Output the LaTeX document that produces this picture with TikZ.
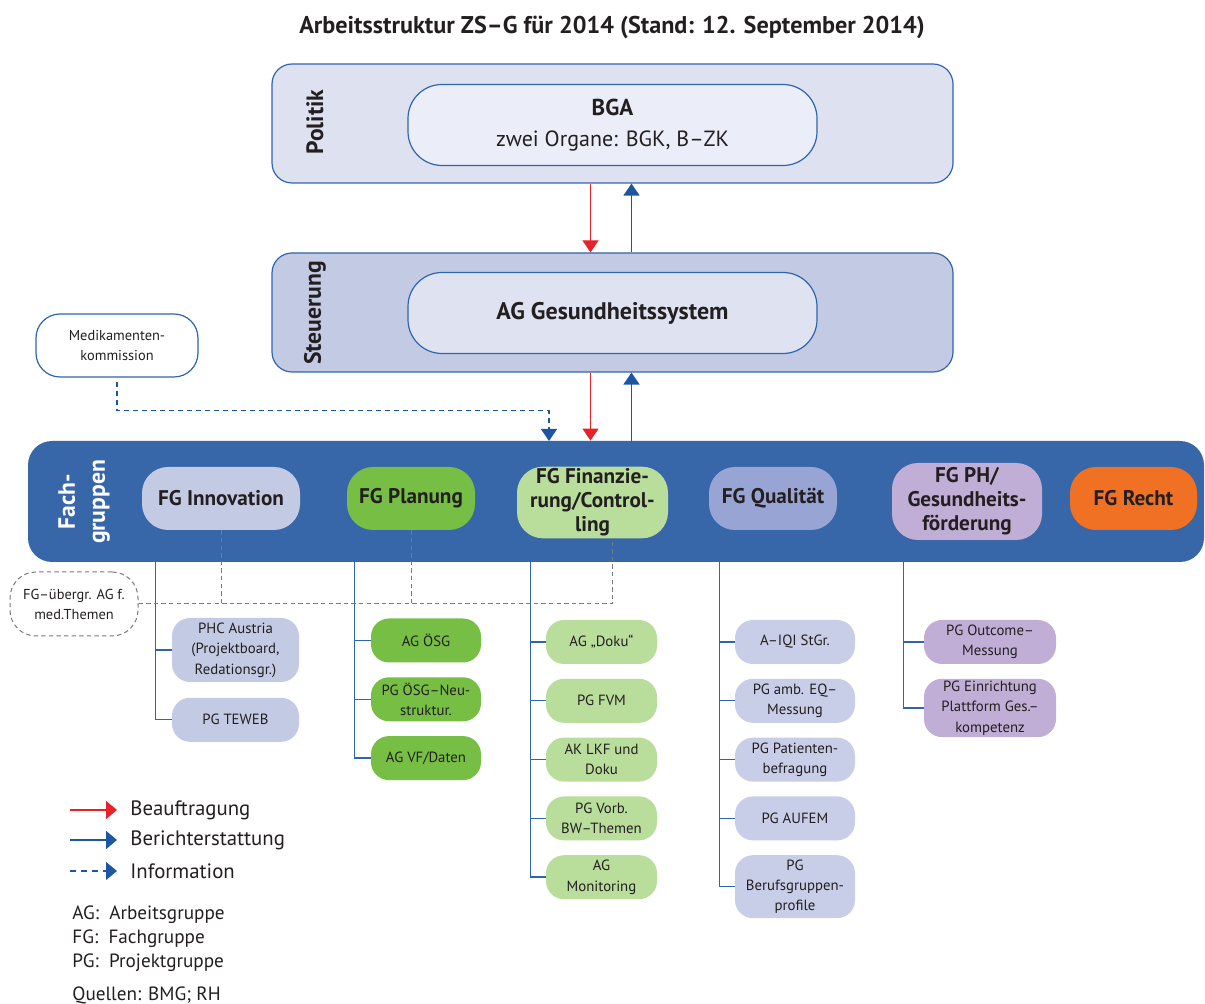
\documentclass[tikz,border=0pt]{standalone}
\usepackage{fontspec}
\setmainfont{PT Sans}
\usepackage{xcolor}
\usepackage{tikz}
\usetikzlibrary{arrows.meta,positioning,calc}
\definecolor{textdark}{HTML}{231F20}
\definecolor{linkblue}{HTML}{2F65AC}
\definecolor{bandblue}{HTML}{3767A9}
\definecolor{arrowblue}{HTML}{1D56A0}
\definecolor{arrowred}{HTML}{E52229}
\definecolor{politikfill}{HTML}{DEE1F0}
\definecolor{bgafill}{HTML}{EBEEF8}
\definecolor{steuerfill}{HTML}{C3CAE4}
\definecolor{agfill}{HTML}{DEE2F1}
\definecolor{innofill}{HTML}{C3CAE4}
\definecolor{planfill}{HTML}{77BE44}
\definecolor{finfill}{HTML}{B9DD9B}
\definecolor{qualfill}{HTML}{98A5D4}
\definecolor{qualsub}{HTML}{C8CDE8}
\definecolor{phfill}{HTML}{C1AED6}
\definecolor{rechtfill}{HTML}{F07124}
\definecolor{crossgray}{HTML}{7A7A7A}

\begin{document}
\begin{tikzpicture}[
    x=0.5pt, y=-0.5pt,
    every node/.style={text=textdark},
    lane/.style={draw=linkblue, line width=0.6pt, rounded corners=10pt, minimum width=340.5pt, minimum height=59.5pt},
    innerbox/.style={draw=linkblue, line width=0.6pt, rounded corners=17pt, minimum width=204.5pt, minimum height=40.5pt, align=center},
    lanelabel/.style={rotate=90, font=\bfseries\fontsize{11.8}{13}\selectfont},
    fg/.style={rounded corners=13pt, align=center, minimum height=31.5pt, inner xsep=2pt, inner ysep=1pt, font=\bfseries\fontsize{10.6}{12}\selectfont},
    sub/.style={rounded corners=9pt, align=center, minimum height=22pt, inner sep=1pt, font=\fontsize{7.4}{10.2}\selectfont},
    tree/.style={draw=linkblue, line width=0.7pt},
    cross/.style={draw=crossgray, line width=0.5pt, dash pattern=on 2.2pt off 1.6pt},
    auftrag/.style={draw=arrowred, line width=0.6pt, -{Triangle[width=8pt,length=6pt]}, arrowred},
    bericht/.style={draw=arrowblue, line width=0.8pt, -{Triangle[width=8pt,length=6pt]}, arrowblue},
    info/.style={draw=arrowblue, line width=0.6pt, dash pattern=on 2.5pt off 2pt, -{Triangle[width=8pt,length=6pt]}, arrowblue},
    legtext/.style={anchor=west, inner sep=0pt, font=\fontsize{10.4}{12}\selectfont}
]
\useasboundingbox (0,0) rectangle (1205,1004);

\node[font=\bfseries\fontsize{12.1}{14}\selectfont] (title) at (612,27) {Arbeitsstruktur ZS–G für 2014 (Stand: 12. September 2014)};

\node[lane, fill=politikfill] (politik) at (612.5,123.5) {};
\node[lanelabel] (politiklbl) at (315,122) {Politik};
\node[innerbox, fill=bgafill, font=\fontsize{11}{15.5}\selectfont] (bga) at (612.5,125) {{\bfseries\fontsize{11.5}{15.5}\selectfont BGA}\\zwei Organe: BGK, B–ZK};

\node[lane, fill=steuerfill] (steuer) at (612.5,312.5) {};
\node[lanelabel] (steuerlbl) at (315,313) {Steuerung};
\node[innerbox, fill=agfill, font=\bfseries\fontsize{12}{14}\selectfont] (agges) at (612.5,313) {AG Gesundheitssystem};

\node[draw=linkblue, fill=white, line width=0.6pt, rounded corners=12pt, minimum width=81pt, minimum height=31.5pt, align=center, font=\fontsize{7.2}{10}\selectfont] (medi) at (117,345.5) {Medikamenten-\\kommission};

\node[fill=bandblue, rounded corners=12pt, minimum width=588pt, minimum height=60.5pt] (band) at (616,501.5) {};
\node[rotate=90, align=center, text=white, font=\bfseries\fontsize{11.8}{15}\selectfont] (bandlbl) at (84,502) {Fach-\\gruppen};

\node[fg, fill=innofill, minimum width=79pt] (inno) at (221,498.5) {FG Innovation};
\node[fg, fill=planfill, minimum width=64pt] (plan) at (411,498.5) {FG Planung};
\node[fg, fill=finfill, minimum width=75.5pt, minimum height=35.5pt] (fin) at (592.5,502.5) {FG Finanzie-\\rung/Control-\\ling};
\node[fg, fill=qualfill, minimum width=64pt] (qual) at (773,498.5) {FG Qualität};
\node[fg, fill=phfill, minimum width=75pt, minimum height=38.5pt] (ph) at (967,501.5) {FG PH/\\Gesundheits-\\förderung};
\node[fg, fill=rechtfill, minimum width=63.5pt] (recht) at (1133.5,498.5) {FG Recht};

\node[draw=crossgray, line width=0.5pt, dash pattern=on 2.2pt off 1.6pt, rounded corners=13pt, minimum width=64pt, minimum height=32pt, align=center, font=\fontsize{7.2}{10}\selectfont] (uebergr) at (74,604) {FG–übergr. AG f.\\med.Themen};

\node[sub, fill=innofill, minimum width=63.5pt, minimum height=32pt] (phc) at (235.5,650) {PHC Austria\\(Projektboard,\\Redationsgr.)};
\node[sub, fill=innofill, minimum width=63.5pt, below=7.5pt of phc] (teweb) {PG TEWEB};

\node[sub, fill=planfill, minimum width=55pt] (agoesg) at (426,640.5) {AG ÖSG};
\node[sub, fill=planfill, minimum width=55pt, below=7pt of agoesg] (pgoesg) {PG ÖSG–Neu-\\struktur.};
\node[sub, fill=planfill, minimum width=55pt, below=7pt of pgoesg] (agvf) {AG VF/Daten};

\node[sub, fill=finfill, minimum width=55.5pt] (doku) at (601.5,642) {AG „Doku“};
\node[sub, fill=finfill, minimum width=55.5pt, below=7pt of doku] (fvm) {PG FVM};
\node[sub, fill=finfill, minimum width=55.5pt, below=7pt of fvm] (lkf) {AK LKF und\\Doku};
\node[sub, fill=finfill, minimum width=55.5pt, below=7pt of lkf] (vorb) {PG Vorb.\\BW–Themen};
\node[sub, fill=finfill, minimum width=55.5pt, below=7pt of vorb] (monit) {AG\\Monitoring};

\node[sub, fill=qualsub, minimum width=60pt] (aiqi) at (795,642) {A–IQI StGr.};
\node[sub, fill=qualsub, minimum width=60pt, below=7pt of aiqi] (amb) {PG amb. EQ–\\Messung};
\node[sub, fill=qualsub, minimum width=60pt, below=7pt of amb] (patient) {PG Patienten-\\befragung};
\node[sub, fill=qualsub, minimum width=60pt, below=7pt of patient] (aufem) {PG AUFEM};
\node[sub, fill=qualsub, minimum width=60pt, minimum height=31.5pt, below=7pt of aufem] (beruf) {PG\\Berufsgruppen-\\profile};

\node[sub, fill=phfill, minimum width=66pt] (outcome) at (990,642) {PG Outcome–\\Messung};
\node[sub, fill=phfill, minimum width=66pt, minimum height=28.5pt, below=7pt of outcome] (einr) {PG Einrichtung\\Plattform Ges.–\\kompetenz};

\coordinate (tinno) at ([xshift=7pt]inno.west |- band.south);
\coordinate (tplan) at ([xshift=4pt]plan.west |- band.south);
\coordinate (tfin) at ([xshift=7pt]fin.west |- band.south);
\coordinate (tqual) at ([xshift=5.5pt]qual.west |- band.south);
\coordinate (tph) at ([xshift=6pt]ph.west |- band.south);
\foreach \n in {phc,teweb} \draw[tree] (tinno) |- (\n.west);
\foreach \n in {agoesg,pgoesg,agvf} \draw[tree] (tplan) |- (\n.west);
\foreach \n in {doku,fvm,lkf,vorb,monit} \draw[tree] (tfin) |- (\n.west);
\foreach \n in {aiqi,amb,patient,aufem,beruf} \draw[tree] (tqual) |- (\n.west);
\foreach \n in {outcome,einr} \draw[tree] (tph) |- (\n.west);

\draw[cross] (inno.south) -- (inno.south |- uebergr.east);
\draw[cross] (plan.south) -- (plan.south |- uebergr.east);
\draw[cross] (uebergr.east) -| ([xshift=10pt]fin.south);

\draw[auftrag] ([xshift=-11pt]politik.south) -- ([xshift=-11pt]steuer.north);
\draw[bericht] ([xshift=9.5pt]steuer.north) -- ([xshift=9.5pt]politik.south);
\draw[auftrag] ([xshift=-11pt]steuer.south) -- ([xshift=-11pt]steuer.south |- band.north);
\draw[bericht] ([xshift=9.5pt]steuer.south |- band.north) -- ([xshift=9.5pt]steuer.south);

\coordinate (infoin) at (549,441);
\draw[info] ([yshift=-2pt]medi.south) -- ++(0,29) -| (infoin);

\node[legtext] (lauf) at (130,810) {Beauftragung};
\node[legtext] (lber) at (130,840) {Berichterstattung};
\node[legtext] (linfo) at (130,871) {Information};
\draw[auftrag, line width=0.9pt, -{Triangle[width=9pt,length=5.5pt]}] ([xshift=-30pt]lauf.west) -- ([xshift=-6.5pt]lauf.west);
\draw[bericht, line width=0.9pt, -{Triangle[width=9pt,length=5.5pt]}] ([xshift=-30pt]lber.west) -- ([xshift=-6.5pt]lber.west);
\draw[info, line width=0.6pt, dash pattern=on 3pt off 2.5pt, -{Triangle[width=9pt,length=5.5pt]}] ([xshift=-30pt]linfo.west) -- ([xshift=-6.5pt]linfo.west);

\node[anchor=north west, inner sep=0pt, align=left, font=\fontsize{9.6}{12}\selectfont] (abbr) at (72,905) {AG:\ \ Arbeitsgruppe\\FG:\ \ Fachgruppe\\PG:\ \ Projektgruppe};
\node[anchor=west, inner sep=0pt, font=\fontsize{9.6}{12}\selectfont] (quellen) at (72,995) {Quellen: BMG; RH};
\end{tikzpicture}
\end{document}
